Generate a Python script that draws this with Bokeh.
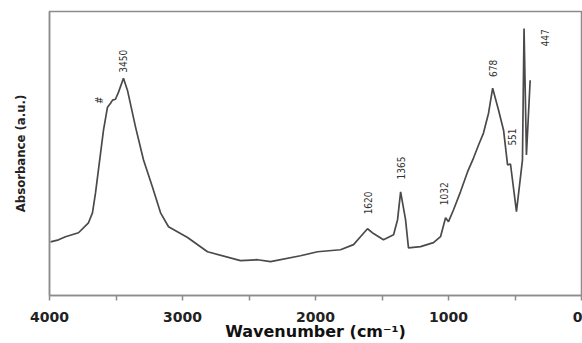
import math
from bokeh.plotting import figure
from bokeh.models import Range1d, FixedTicker, ColumnDataSource
from bokeh.core.properties import value
from bokeh.embed import file_html
from bokeh.resources import INLINE

# IR spectrum (wavenumber cm^-1, absorbance a.u.)
wavenumber = [3992, 3932, 3880, 3782, 3707, 3677, 3654, 3632, 3594, 3564, 3541, 3526,
              3504, 3481, 3444, 3414, 3353, 3293, 3226, 3165, 3105, 2962, 2812, 2564,
              2436, 2338, 2113, 1985, 1812, 1714, 1662, 1609, 1564, 1489, 1413, 1383,
              1360, 1323, 1301, 1210, 1113, 1060, 1022, 1000, 962, 910, 857, 812,
              774, 737, 699, 668, 624, 586, 556, 534, 489, 444, 432, 414, 386]
absorbance = [0.189, 0.196, 0.207, 0.221, 0.256, 0.291, 0.361, 0.442, 0.582, 0.663, 0.677, 0.688,
              0.691, 0.716, 0.765, 0.723, 0.593, 0.477, 0.382, 0.291, 0.242, 0.204, 0.154, 0.123,
              0.126, 0.119, 0.140, 0.154, 0.161, 0.179, 0.207, 0.235, 0.218, 0.196, 0.214, 0.267,
              0.365, 0.267, 0.168, 0.172, 0.186, 0.207, 0.274, 0.260, 0.302, 0.365, 0.435, 0.484,
              0.530, 0.572, 0.642, 0.730, 0.653, 0.582, 0.460, 0.463, 0.295, 0.477, 0.940, 0.495, 0.758]

peak_labels = ["#", "3450", "1620", "1365", "1032", "678", "551", "447"]
peak_label_x = [3622, 3444, 1609, 1360, 1037, 669, 519, 271]
peak_label_y = [0.688, 0.825, 0.326, 0.449, 0.358, 0.800, 0.558, 0.907]

x_ticks = [0, 1000, 2000, 3000, 4000]
x_minor_ticks = [500, 1500, 2500, 3500]
x_title = "Wavenumber (cm⁻¹)"
y_title = "Absorbance (a.u.)"

NARROW = "'DejaVu Sans Condensed', 'Liberation Sans', sans-serif"

p = figure(width=582, height=343, output_backend="svg", toolbar_location=None,
           x_range=Range1d(4000, 0), y_range=Range1d(0, 1),
           min_border_left=49, min_border_right=1, min_border_top=11, min_border_bottom=47)

p.background_fill_color = "white"
p.border_fill_color = "white"
p.outline_line_color = "#8c8c8c"
p.outline_line_width = 1.5
p.xgrid.visible = False
p.ygrid.visible = False

p.line(wavenumber, absorbance, line_color="#4a4a4a", line_width=1.7)

src = ColumnDataSource(dict(x=peak_label_x, y=peak_label_y, t=peak_labels))
p.text(x="x", y="y", text="t", source=src, angle=math.pi / 2,
       text_align="center", text_baseline="middle",
       text_font=value(NARROW), text_font_size="10px",
       text_color="#333333")

xa = p.xaxis[0]
xa.ticker = FixedTicker(ticks=x_ticks, minor_ticks=x_minor_ticks)
xa.axis_line_color = "#8c8c8c"
xa.axis_line_width = 1.5
xa.major_tick_line_color = "#8c8c8c"
xa.minor_tick_line_color = "#8c8c8c"
xa.major_tick_line_width = 1.5
xa.minor_tick_line_width = 1.5
xa.major_tick_in = -5
xa.major_tick_out = 0
xa.minor_tick_in = -5
xa.minor_tick_out = 0
xa.major_label_text_font = "DejaVu Sans"
xa.major_label_text_font_style = "bold"
xa.major_label_text_font_size = "14px"
xa.major_label_text_color = "#222222"
xa.major_label_standoff = 16
xa.axis_label = x_title
xa.axis_label_text_font = "DejaVu Sans"
xa.axis_label_text_font_style = "bold"
xa.axis_label_text_font_size = "16px"
xa.axis_label_text_color = "#111111"
xa.axis_label_standoff = -3

ya = p.yaxis[0]
ya.ticker = FixedTicker(ticks=[])
ya.axis_line_color = "#8c8c8c"
ya.axis_line_width = 1.5
ya.major_tick_line_color = None
ya.minor_tick_line_color = None
ya.major_tick_out = 0
ya.minor_tick_out = 0
ya.major_label_standoff = 0
ya.major_label_text_font_size = "0px"
ya.axis_label = y_title
ya.axis_label_text_font = NARROW
ya.axis_label_text_font_style = "bold"
ya.axis_label_text_font_size = "13px"
ya.axis_label_text_color = "#222222"
ya.axis_label_standoff = 22

open("out.html", "w").write(file_html(p, INLINE))
